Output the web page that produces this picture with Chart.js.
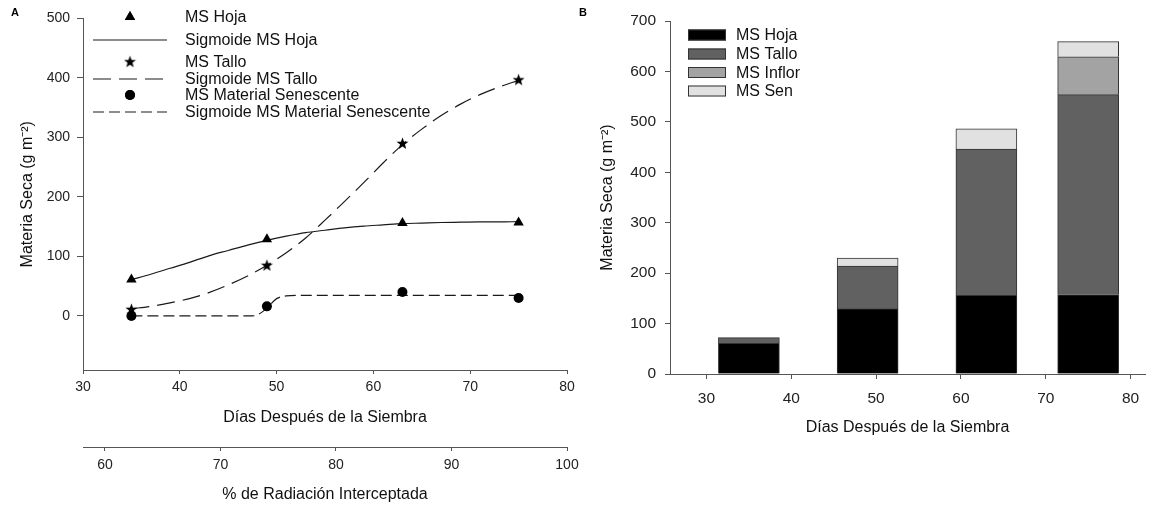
<!DOCTYPE html>
<html>
<head>
<meta charset="utf-8">
<script src="https://cdn.jsdelivr.net/npm/chart.js@4.4.1/dist/chart.umd.min.js"></script>
<style>
  html, body { margin: 0; padding: 0; background: #fff; }
  #wrap { position: relative; width: 1156px; height: 505px; overflow: hidden; }
  canvas { position: absolute; top: 0; }
  #chartA { left: 0; }
  #chartB { left: 590px; }
  .panel { position: absolute; font: bold 11px 'Liberation Sans', Arial, sans-serif; line-height: 11px; color: #000; }
</style>
</head>
<body>
<div id="wrap">
  <canvas id="chartA" width="590" height="505"></canvas>
  <canvas id="chartB" width="566" height="505"></canvas>
  <div class="panel" style="left:11px;top:7px">A</div>
  <div class="panel" style="left:579px;top:7px">B</div>
</div>
<script>
// muestreos (días después de la siembra)
const dias = [35, 49, 63, 75];
const msHoja = [61, 129, 156, 157];
const msTallo = [11, 85, 290, 397];
const msInflor = [0, 0, 0, 75];
const msSen = [0, 16, 40, 30];

// curvas sigmoides
const diasCurva = [35, 37, 39, 41, 43, 45, 47, 49, 51, 53, 55, 57, 59, 61, 63, 65, 67, 69, 71, 73, 75];
const sigHoja = [61, 70, 80, 90, 101, 110, 119, 127, 134, 140, 144, 148, 151, 153, 155, 156, 157, 157.5, 158, 158, 158.5];
const sigTallo = [12, 16, 22, 29, 39, 52, 67, 85, 106, 131, 161, 192, 224, 257, 288, 314, 337, 356, 372, 385, 396];
const diasCurvaSen = [35, 40, 45, 47.5, 48, 49, 50, 51, 52, 55, 60, 65, 70, 75];
const sigSen = [0, 0, 0, 0, 1.5, 13, 29, 33.5, 34.5, 34.5, 34.5, 34.5, 34.5, 34.5];

const ticksDias = [30, 40, 50, 60, 70, 80];
const ticksRad = [60, 70, 80, 90, 100];
const ticksA = [0, 100, 200, 300, 400, 500];
const ticksB = [0, 100, 200, 300, 400, 500, 600, 700];

const fuente = "'Liberation Sans', Arial, sans-serif";
const ejeColor = '#555';
const pts = (xs, ys) => xs.map((x, i) => ({ x: x, y: ys[i] }));
const fijarTicks = (vals) => (axis) => { axis.ticks = vals.map((v) => ({ value: v })); };

// estrella rellena de cinco puntas
const estrella = (function () {
  const c = document.createElement('canvas');
  c.width = 13; c.height = 13;
  const g = c.getContext('2d');
  g.beginPath();
  for (let i = 0; i < 10; i++) {
    const r = i % 2 === 0 ? 6.3 : 2.6;
    const a = -Math.PI / 2 + i * Math.PI / 5;
    const px = 6.5 + r * Math.cos(a), py = 6.8 + r * Math.sin(a);
    if (i === 0) g.moveTo(px, py); else g.lineTo(px, py);
  }
  g.closePath();
  g.fillStyle = '#000';
  g.fill();
  return c;
})();

function eje(extra) {
  return Object.assign({
    type: 'linear',
    grid: { drawOnChartArea: false, drawTicks: true, tickLength: 5, color: ejeColor, tickColor: ejeColor, lineWidth: 1 },
    border: { display: true, color: ejeColor, width: 1 }
  }, extra);
}

const leyendaA = {
  id: 'leyendaA',
  afterDraw(chart) {
    const ctx = chart.ctx;
    const ds = chart.data.datasets;
    const filas = [17, 40, 61.7, 79, 95, 112];
    ctx.save();
    ctx.font = '16px ' + fuente;
    ctx.fillStyle = '#111';
    ctx.textBaseline = 'middle';
    ds.forEach((d, i) => {
      const y = filas[i];
      if (d.showLine) {
        ctx.save();
        ctx.strokeStyle = d.borderColor;
        ctx.lineWidth = d.borderWidth;
        ctx.setLineDash(d.borderDash || []);
        ctx.beginPath();
        ctx.moveTo(93, y);
        ctx.lineTo(167, y);
        ctx.stroke();
        ctx.restore();
      } else {
        Chart.helpers.drawPoint(ctx, { pointStyle: d.pointStyle, radius: d.pointRadius, rotation: 0, borderWidth: 0 }, 130, y);
        ctx.fillStyle = '#000';
        ctx.fill();
      }
      ctx.fillStyle = '#111';
      ctx.fillText(d.label, 185, y + 1);
    });
    ctx.restore();
  }
};

new Chart(document.getElementById('chartA'), {
  type: 'scatter',
  data: {
    datasets: [
      { label: 'MS Hoja', data: pts(dias, msHoja), pointStyle: 'triangle', pointRadius: 6, backgroundColor: '#000', borderColor: '#000', borderWidth: 0, order: 0 },
      { label: 'Sigmoide MS Hoja', data: pts(diasCurva, sigHoja), showLine: true, pointRadius: 0, borderColor: '#1a1a1a', borderWidth: 1.2, cubicInterpolationMode: 'monotone', order: 1 },
      { label: 'MS Tallo', data: pts(dias, msTallo), pointStyle: estrella, pointRadius: 6, backgroundColor: '#000', borderColor: '#000', order: 0 },
      { label: 'Sigmoide MS Tallo', data: pts(diasCurva, sigTallo), showLine: true, pointRadius: 0, borderColor: '#1a1a1a', borderWidth: 1.2, borderDash: [18, 8], cubicInterpolationMode: 'monotone', order: 1 },
      { label: 'MS Material Senescente', data: pts(dias, msSen), pointStyle: 'circle', pointRadius: 5, backgroundColor: '#000', borderColor: '#000', borderWidth: 0, order: 0 },
      { label: 'Sigmoide MS Material Senescente', data: pts(diasCurvaSen, sigSen), showLine: true, pointRadius: 0, borderColor: '#1a1a1a', borderWidth: 1.2, borderDash: [11, 5], cubicInterpolationMode: 'monotone', order: 1 }
    ]
  },
  options: {
    responsive: false,
    animation: false,
    events: [],
    layout: { padding: { left: 0, right: 23, top: 18.5, bottom: 0 } },
    plugins: { legend: { display: false }, tooltip: { enabled: false } },
    scales: {
      x: eje({
        position: 'bottom', min: 30, max: 80,
        afterBuildTicks: fijarTicks(ticksDias),
        afterFit: (s) => { s.height = 77; },
        grid: { drawOnChartArea: false, tickLength: 4, color: ejeColor, tickColor: ejeColor },
        ticks: { font: { family: fuente, size: 14 }, color: '#222', padding: 5, maxRotation: 0, autoSkip: false },
        title: { display: true, text: 'Días Después de la Siembra', font: { family: fuente, size: 16 }, color: '#111', padding: { top: 0, bottom: 19.4 } }
      }),
      x2: eje({
        position: 'bottom', min: 58.1, max: 100,
        afterBuildTicks: fijarTicks(ticksRad),
        afterFit: (s) => { s.height = 58; },
        grid: { drawOnChartArea: false, tickLength: 4, color: ejeColor, tickColor: ejeColor },
        ticks: { font: { family: fuente, size: 14 }, color: '#222', padding: 5.6, maxRotation: 0, autoSkip: false },
        title: { display: true, text: '% de Radiación Interceptada', font: { family: fuente, size: 16 }, color: '#111', padding: { top: 0, bottom: 0.4 } }
      }),
      y: eje({
        position: 'left', min: -91, max: 500,
        afterBuildTicks: fijarTicks(ticksA),
        afterFit: (s) => { s.width = 83; },
        grid: { drawOnChartArea: false, tickLength: 6, color: ejeColor, tickColor: ejeColor },
        ticks: { font: { family: fuente, size: 14 }, color: '#222', padding: 7 },
        title: { display: true, text: 'Materia Seca (g m⁻²)', font: { family: fuente, size: 16 }, color: '#111', padding: { top: 18.4, bottom: 0 } }
      })
    }
  },
  plugins: [leyendaA]
});

const leyendaB = {
  id: 'leyendaB',
  afterDraw(chart) {
    const ctx = chart.ctx;
    const filas = [35, 54, 72.5, 91];
    ctx.save();
    ctx.font = '16px ' + fuente;
    ctx.textBaseline = 'middle';
    chart.data.datasets.forEach((d, i) => {
      const y = filas[i];
      ctx.fillStyle = d.backgroundColor;
      ctx.fillRect(98, y - 5.5, 38, 11);
      ctx.strokeStyle = '#333';
      ctx.lineWidth = 1;
      ctx.strokeRect(98.5, y - 5, 37, 10);
      ctx.fillStyle = '#111';
      ctx.fillText(d.label, 146, y + 1);
    });
    ctx.restore();
  }
};

const barra = { barThickness: 61, borderColor: '#333', borderWidth: 1 };

new Chart(document.getElementById('chartB'), {
  type: 'bar',
  data: {
    datasets: [
      Object.assign({ label: 'MS Hoja', data: pts(dias, msHoja), backgroundColor: '#000000' }, barra),
      Object.assign({ label: 'MS Tallo', data: pts(dias, msTallo), backgroundColor: '#616161' }, barra),
      Object.assign({ label: 'MS Inflor', data: pts(dias, msInflor), backgroundColor: '#a3a3a3' }, barra),
      Object.assign({ label: 'MS Sen', data: pts(dias, msSen), backgroundColor: '#e1e1e1' }, barra)
    ]
  },
  options: {
    responsive: false,
    animation: false,
    events: [],
    layout: { padding: { left: 0, right: 11, top: 21, bottom: 0 } },
    plugins: { legend: { display: false }, tooltip: { enabled: false } },
    scales: {
      x: eje({
        position: 'bottom', min: 25.7, max: 81.7, stacked: true, offset: false,
        afterBuildTicks: fijarTicks(ticksDias),
        afterFit: (s) => { s.height = 131; },
        grid: { drawOnChartArea: false, offset: false, tickLength: 5, color: ejeColor, tickColor: ejeColor },
        ticks: { font: { family: fuente, size: 15.5 }, color: '#222', padding: 10, maxRotation: 0, autoSkip: false },
        title: { display: true, text: 'Días Después de la Siembra', font: { family: fuente, size: 16 }, color: '#111', padding: { top: 0, bottom: 67.4 } }
      }),
      y: eje({
        position: 'left', min: 0, max: 700, stacked: true,
        afterBuildTicks: fijarTicks(ticksB),
        afterFit: (s) => { s.width = 80; },
        grid: { drawOnChartArea: false, tickLength: 5, color: ejeColor, tickColor: ejeColor },
        ticks: { font: { family: fuente, size: 15.5 }, color: '#222', padding: 9 },
        title: { display: true, text: 'Materia Seca (g m⁻²)', font: { family: fuente, size: 16 }, color: '#111', padding: { top: 8, bottom: 0 } }
      })
    }
  },
  plugins: [leyendaB]
});
</script>
</body>
</html>
